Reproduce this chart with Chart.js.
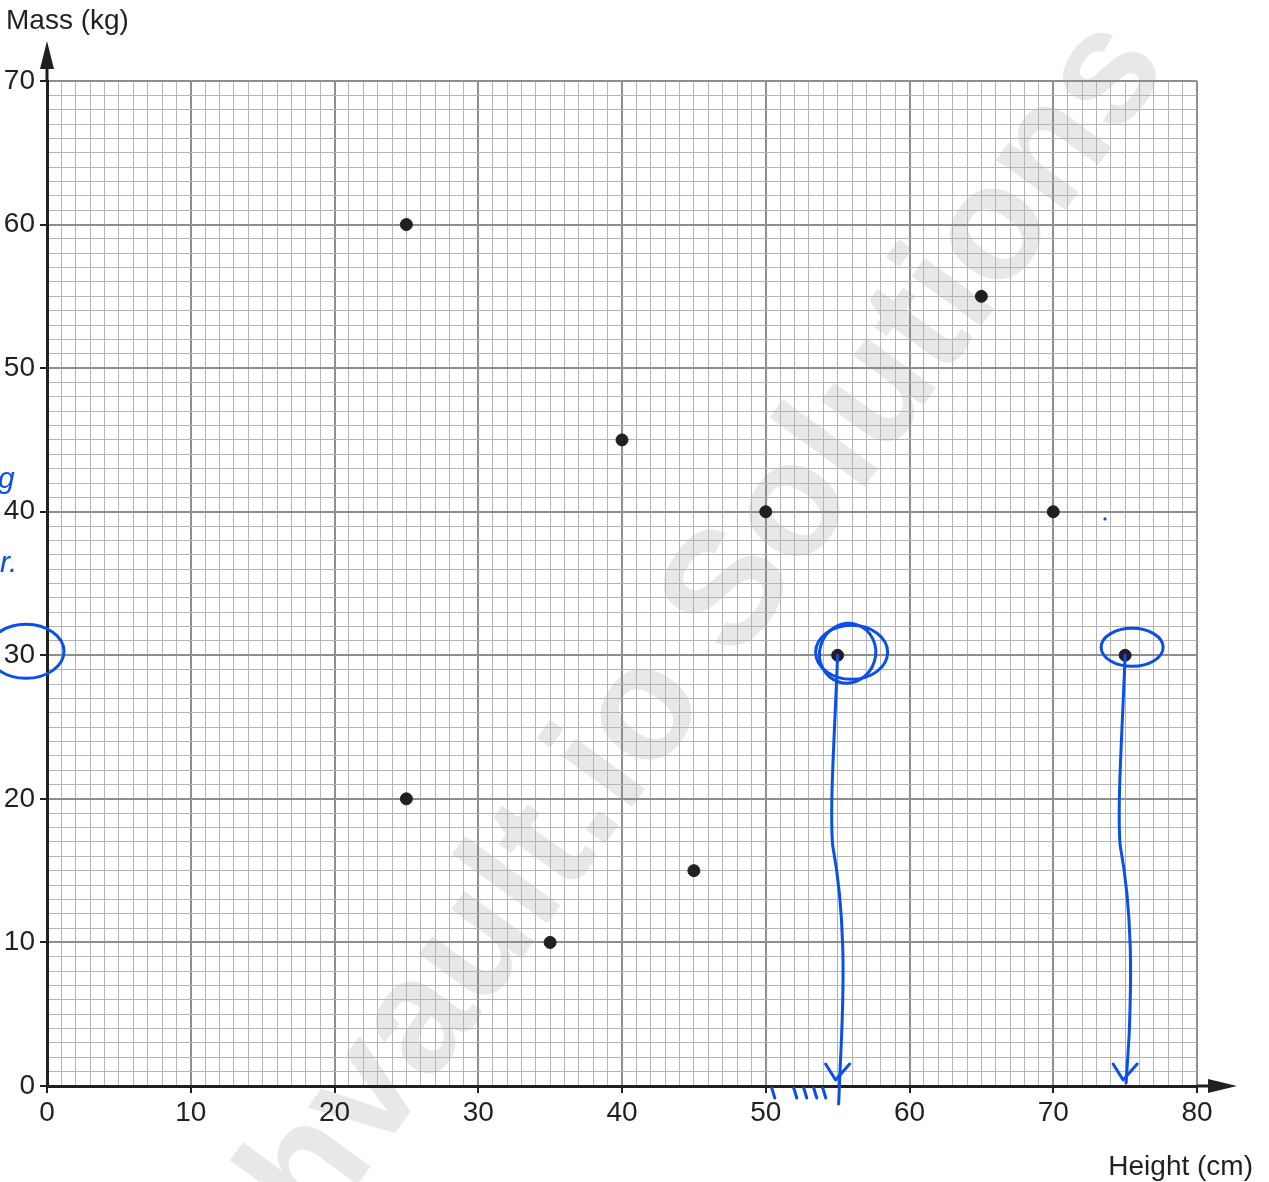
<!DOCTYPE html>
<html>
<head>
<meta charset="utf-8">
<script src="https://cdn.jsdelivr.net/npm/chart.js@4.4.1/dist/chart.umd.min.js"></script>
<style>
html,body{margin:0;padding:0;background:#fff;}
#wrap{width:1269px;height:1182px;position:relative;}
</style>
</head>
<body>
<div id="wrap"><canvas id="c" width="1269" height="1182"></canvas></div>
<script>
// ---- data ----
const heights = [25, 65, 40, 50, 70, 55, 75, 25, 45, 35];
const masses  = [60, 55, 45, 40, 40, 30, 30, 20, 15, 10];
const xTickLabels = [0, 10, 20, 30, 40, 50, 60, 70, 80];
const yTickLabels = [0, 10, 20, 30, 40, 50, 60, 70];
const xTitle = 'Height (cm)';
const yTitle = 'Mass (kg)';
const circledX = [55, 75];      // hand-circled points (height)
const circledY = [30, 30];      // hand-circled points (mass)
const circledAxisValue = 30;    // hand-circled y tick label
const watermark = 'hvault.io Solutions';

const FONT = '"Liberation Sans", Arial, sans-serif';
const INK = '#231f20';
const PEN = '#0a50e6';

const points = heights.map((h, i) => ({x: h, y: masses[i]}));
const isMajor = v => Math.abs(v % 10) < 1e-9;

const watermarkPlugin = {
  id: 'wm',
  beforeDraw(chart) {
    const ctx = chart.ctx;
    ctx.save();
    ctx.translate(708, 626);
    ctx.rotate(-54 * Math.PI / 180);
    ctx.font = 'bold 162px ' + FONT;
    ctx.fillStyle = '#e8e8e8';
    ctx.textAlign = 'center';
    ctx.textBaseline = 'middle';
    ctx.fillText(watermark, 0, 0);
    ctx.restore();
  }
};

const axesPlugin = {
  id: 'axesArrows',
  afterDatasetsDraw(chart) {
    const ctx = chart.ctx;
    const a = chart.chartArea;
    const xs = chart.scales.x, ys = chart.scales.y;
    const x0 = xs.getPixelForValue(0), y0 = ys.getPixelForValue(0);
    ctx.save();
    ctx.strokeStyle = INK; ctx.fillStyle = INK; ctx.lineWidth = 3;
    // y axis extension + arrow
    ctx.beginPath(); ctx.moveTo(x0, a.top); ctx.lineTo(x0, a.top - 14); ctx.stroke();
    ctx.beginPath(); ctx.moveTo(x0, a.top - 40); ctx.lineTo(x0 - 7, a.top - 12); ctx.lineTo(x0 + 7, a.top - 12); ctx.closePath(); ctx.fill();
    // x axis extension + arrow
    ctx.beginPath(); ctx.moveTo(a.right, y0); ctx.lineTo(a.right + 14, y0); ctx.stroke();
    ctx.beginPath(); ctx.moveTo(a.right + 40, y0); ctx.lineTo(a.right + 11, y0 - 7); ctx.lineTo(a.right + 11, y0 + 7); ctx.closePath(); ctx.fill();
    // titles
    ctx.font = '28px ' + FONT;
    ctx.textBaseline = 'alphabetic';
    ctx.textAlign = 'left';
    ctx.fillText(yTitle, 6, 29);
    ctx.textAlign = 'right';
    ctx.fillText(xTitle, 1253, 1175);
    ctx.restore();
  },
  afterDraw(chart) {
    // handwritten pen annotations
    const ctx = chart.ctx;
    const xs = chart.scales.x, ys = chart.scales.y;
    const y0 = ys.getPixelForValue(0);
    ctx.save();
    ctx.strokeStyle = PEN; ctx.fillStyle = PEN;
    ctx.lineWidth = 3; ctx.lineCap = 'round'; ctx.lineJoin = 'round';
    circledX.forEach((xv, i) => {
      const px = xs.getPixelForValue(xv), py = ys.getPixelForValue(circledY[i]);
      if (i === 0) {
        ctx.beginPath(); ctx.ellipse(px + 14, py - 3, 36, 27, 0, 0, Math.PI * 2); ctx.stroke();
        ctx.beginPath(); ctx.ellipse(px + 10, py - 2, 28, 30, 0.3, 0, Math.PI * 2); ctx.stroke();
      } else {
        ctx.beginPath(); ctx.ellipse(px + 7, py - 8, 31, 19, 0, 0, Math.PI * 2); ctx.stroke();
      }
      // wavy drop line to the axis
      ctx.beginPath();
      ctx.moveTo(px, py);
      ctx.bezierCurveTo(px - 3, py + 80, px - 8, py + 150, px - 5, py + 190);
      ctx.bezierCurveTo(px + 8, py + 260, px + 6, py + 330, px + 4, py + 380);
      ctx.lineTo(px + 1, y0 + (i === 0 ? 18 : -3));
      ctx.stroke();
      // arrow head
      ctx.beginPath();
      ctx.moveTo(px - 12, y0 - 22); ctx.lineTo(px - 2, y0 - 6); ctx.lineTo(px + 12, y0 - 22);
      ctx.stroke();
    });
    // circle around the y tick label
    const ly = ys.getPixelForValue(circledAxisValue);
    ctx.beginPath(); ctx.ellipse(26, ly - 4, 38, 27, 0, 0, Math.PI * 2); ctx.stroke();
    // tally marks near x-axis
    const tx = xs.getPixelForValue(50);
    [8, 30, 40, 50, 59].forEach(dx => {
      ctx.beginPath(); ctx.moveTo(tx + dx - 2, y0 + 2); ctx.lineTo(tx + dx + 1, y0 + 12); ctx.stroke();
    });
    // margin scribbles
    ctx.font = 'italic 30px ' + FONT;
    ctx.textAlign = 'left';
    ctx.fillText('g', -2, 488);
    ctx.fillText('r.', 0, 572);
    ctx.beginPath(); ctx.arc(xs.getPixelForValue(73.6), ys.getPixelForValue(39.5), 1.6, 0, Math.PI * 2); ctx.fill();
    ctx.restore();
  }
};

new Chart(document.getElementById('c'), {
  type: 'scatter',
  data: {
    datasets: [{
      data: points,
      backgroundColor: INK,
      borderColor: INK,
      pointRadius: 6,
      pointHoverRadius: 6
    }]
  },
  options: {
    responsive: false,
    animation: false,
    events: [],
    layout: {padding: {top: 81, right: 72, left: 0, bottom: 0}},
    plugins: {legend: {display: false}, tooltip: {enabled: false}},
    scales: {
      x: {
        type: 'linear', min: 0, max: 80,
        afterFit(s) { s.height = 96; },
        afterBuildTicks(s) { s.ticks = Array.from({length: 81}, (_, i) => ({value: i})); },
        ticks: {
          autoSkip: false, maxRotation: 0, padding: 3,
          color: INK, font: {family: FONT, size: 28},
          callback: v => xTickLabels.includes(v) ? String(v) : ''
        },
        grid: {
          color: c => isMajor(c.tick.value) ? '#8e8e8e' : '#b4b4b4',
          lineWidth: c => isMajor(c.tick.value) ? 2 : 1,
          tickColor: c => isMajor(c.tick.value) ? INK : 'rgba(0,0,0,0)',
          tickLength: 7, tickWidth: 2
        },
        border: {display: true, color: INK, width: 3}
      },
      y: {
        type: 'linear', min: 0, max: 70,
        afterFit(s) { s.width = 47; },
        afterBuildTicks(s) { s.ticks = Array.from({length: 71}, (_, i) => ({value: i})); },
        ticks: {
          autoSkip: false, padding: 5,
          color: INK, font: {family: FONT, size: 28},
          callback: v => yTickLabels.includes(v) ? String(v) : ''
        },
        grid: {
          color: c => isMajor(c.tick.value) ? '#8e8e8e' : '#b4b4b4',
          lineWidth: c => isMajor(c.tick.value) ? 2 : 1,
          tickColor: c => isMajor(c.tick.value) ? INK : 'rgba(0,0,0,0)',
          tickLength: 7, tickWidth: 2
        },
        border: {display: true, color: INK, width: 3}
      }
    }
  },
  plugins: [watermarkPlugin, axesPlugin]
});
</script>
</body>
</html>
